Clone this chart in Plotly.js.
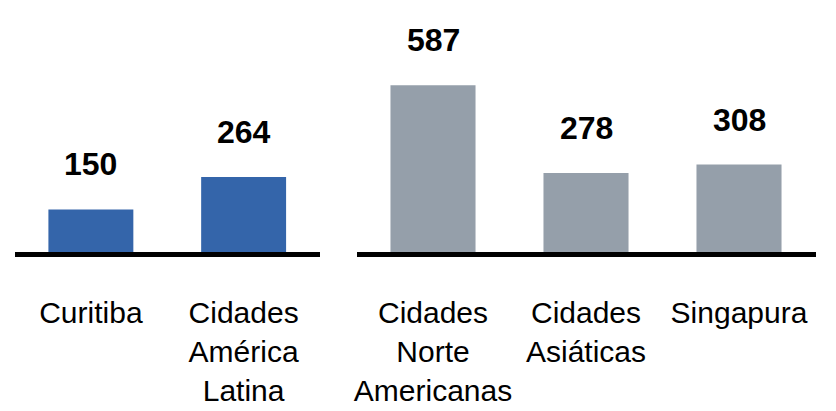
<!DOCTYPE html>
<html>
<head>
<meta charset="utf-8">
<script src="https://cdn.plot.ly/plotly-3.0.1.min.js"></script>
<style>
  html, body { margin: 0; padding: 0; background: #ffffff; }
  #chart { width: 836px; height: 411px; }
</style>
</head>
<body>
<div id="chart"></div>
<script>
// Left group (Brazil / Latin America)
var leftCategories = ['Curitiba', 'Cidades<br>América<br>Latina'];
var leftValues = [150, 264];

// Right group (reference cities)
var rightCategories = ['Cidades<br>Norte<br>Americanas', 'Cidades<br>Asiáticas', 'Singapura'];
var rightValues = [587, 278, 308];

var blue = '#3465AA';
var gray = '#959FAA';
var fontFamily = '"Liberation Sans", Arial, Helvetica, sans-serif';

var traces = [
  {
    type: 'bar', x: leftCategories, y: leftValues,
    xaxis: 'x', yaxis: 'y',
    marker: { color: blue }, hoverinfo: 'none'
  },
  {
    type: 'bar', x: rightCategories, y: rightValues,
    xaxis: 'x2', yaxis: 'y',
    marker: { color: gray }, hoverinfo: 'none'
  }
];

function makeLabels(cats, vals, xref) {
  return cats.map(function (c, i) {
    return {
      x: c, y: vals[i], xref: xref, yref: 'y',
      text: String(vals[i]), showarrow: false,
      yanchor: 'middle', yshift: 45,
      font: { family: fontFamily, size: 32, color: '#000000', weight: 'bold' }
    };
  });
}

var W = 836;
var axisCommon = {
  type: 'category',
  showline: true, linewidth: 5, linecolor: '#000000',
  showgrid: false, zeroline: false,
  ticks: '', ticklabelstandoff: 30,
  tickfont: { family: fontFamily, size: 30, color: '#000000' },
  fixedrange: true
};

var layout = {
  width: 836, height: 411,
  margin: { l: 0, r: 0, t: 0, b: 159, pad: 0 },
  paper_bgcolor: '#ffffff', plot_bgcolor: '#ffffff',
  showlegend: false,
  bargap: 0.444,
  xaxis: Object.assign({}, axisCommon, { domain: [14.5 / W, 320 / W], anchor: 'y' }),
  xaxis2: Object.assign({}, axisCommon, { domain: [356.5 / W, 815.5 / W], anchor: 'y' }),
  yaxis: {
    range: [0, 887], visible: false, showgrid: false, zeroline: false,
    fixedrange: true
  },
  annotations: makeLabels(leftCategories, leftValues, 'x')
    .concat(makeLabels(rightCategories, rightValues, 'x2'))
};

Plotly.newPlot('chart', traces, layout, { displayModeBar: false, staticPlot: true });
</script>
</body>
</html>
